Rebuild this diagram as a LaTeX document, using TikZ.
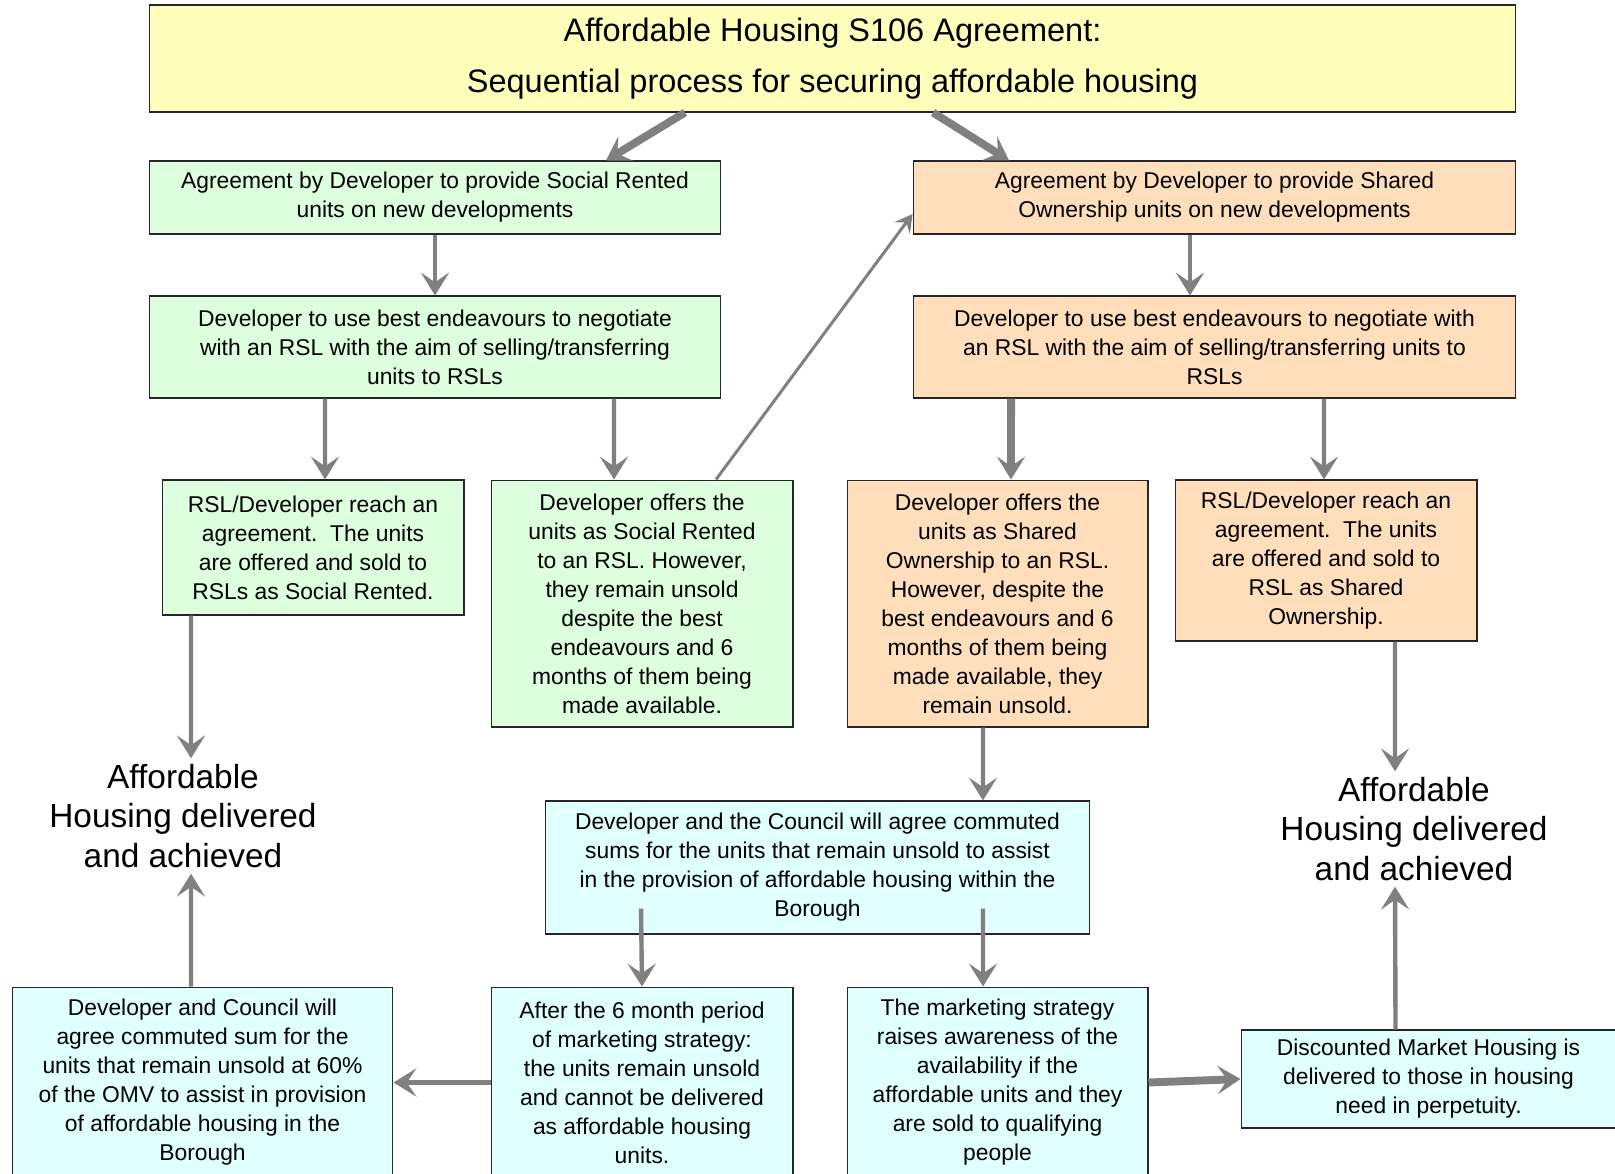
\documentclass[tikz,border=0pt]{standalone}
\usepackage{fontspec}
\setmainfont{Liberation Sans}
\usetikzlibrary{arrows.meta}

\definecolor{titleyellow}{RGB}{255,255,187}
\definecolor{socgreen}{RGB}{221,255,221}
\definecolor{shpeach}{RGB}{255,222,188}
\definecolor{cmcyan}{RGB}{224,255,255}
\definecolor{arrgray}{RGB}{128,128,128}

\begin{document}
\begin{tikzpicture}[x=0.02cm, y=-0.02cm,
    box/.style={draw=black!85, line width=0.6pt, align=center, inner sep=0pt,
        font=\fontsize{13}{16.5}\selectfont},
    soc/.style={box, fill=socgreen},
    shd/.style={box, fill=shpeach},
    sums/.style={box, fill=cmcyan},
    done/.style={align=center, font=\fontsize{19}{22.3}\selectfont},
    arr/.style={draw=arrgray, line width=2.5pt,
        -{Stealth[length=13pt, width=16pt, inset=5.5pt]}},
    thickarr/.style={arr, line width=4.5pt},
    thinarr/.style={draw=arrgray, line width=1.7pt,
        -{Stealth[length=10pt, width=11pt, inset=4pt]}}]
    \fill[white] (0,0) rectangle (1615,1173);
    \useasboundingbox (0,0) rectangle (1615,1173);

    % heading
    \node[box, fill=titleyellow, minimum width=27.34cm, minimum height=2.14cm,
        font=\fontsize{18.5}{29}\selectfont] (title) at (832.5,58.5)
        {Affordable Housing S106 Agreement:\\ Sequential process for securing affordable housing};

    % social rented branch
    \node[soc, minimum width=11.44cm, minimum height=1.46cm] (gSoc1) at (435,197.5)
        {Agreement by Developer to provide Social Rented\\ units on new developments};
    \node[soc, minimum width=11.44cm, minimum height=2.04cm] (gSoc2) at (435,347)
        {Developer to use best endeavours to negotiate\\ with an RSL with the aim of selling/transferring\\ units to RSLs};
    \node[soc, minimum width=6.04cm, minimum height=2.70cm] (gSoc3) at (313,547.5)
        {RSL/Developer reach an\\ agreement.\ \ The units\\ are offered and sold to\\ RSLs as Social Rented.};
    \node[soc, minimum width=6.04cm, minimum height=4.94cm] (gSoc4) at (642,603.5)
        {Developer offers the\\ units as Social Rented\\ to an RSL. However,\\ they remain unsold\\ despite the best\\ endeavours and 6\\ months of them being\\ made available.};

    % shared ownership branch
    \node[shd, minimum width=12.06cm, minimum height=1.46cm] (oSh1) at (1214.5,197.5)
        {Agreement by Developer to provide Shared\\ Ownership units on new developments};
    \node[shd, minimum width=12.06cm, minimum height=2.04cm] (oSh2) at (1214.5,347)
        {Developer to use best endeavours to negotiate with\\ an RSL with the aim of selling/transferring units to\\ RSLs};
    \node[shd, minimum width=6.02cm, minimum height=4.94cm] (oSh3) at (997.5,603.5)
        {Developer offers the\\ units as Shared\\ Ownership to an RSL.\\ However, despite the\\ best endeavours and 6\\ months of them being\\ made available, they\\ remain unsold.};
    \node[shd, minimum width=6.04cm, minimum height=3.22cm] (oSh4) at (1326,560.5)
        {RSL/Developer reach an\\ agreement.\ \ The units\\ are offered and sold to\\ RSL as Shared\\ Ownership.};

    % outcomes
    \node[done] (affL) at (183,816) {Affordable\\ Housing delivered\\ and achieved};
    \node[done] (affR) at (1414,829) {Affordable\\ Housing delivered\\ and achieved};

    % commuted sums and marketing
    \node[sums, minimum width=10.9cm, minimum height=2.66cm] (cSums) at (817.5,867.5)
        {Developer and the Council will agree commuted\\ sums for the units that remain unsold to assist\\ in the provision of affordable housing within the\\ Borough};
    \node[sums, minimum width=7.62cm, minimum height=3.82cm] (cPaid) at (202.5,1082.5)
        {Developer and Council will\\ agree commuted sum for the\\ units that remain unsold at 60\%\\ of the OMV to assist in provision\\ of affordable housing in the\\ Borough};
    \node[sums, minimum width=6.04cm, minimum height=3.82cm] (cUnsold) at (642,1082.5)
        {After the 6 month period\\ of marketing strategy:\\ the units remain unsold\\ and cannot be delivered\\ as affordable housing\\ units.};
    \node[sums, minimum width=6.02cm, minimum height=3.82cm] (cMarket) at (997.5,1082.5)
        {The marketing strategy\\ raises awareness of the\\ availability if the\\ affordable units and they\\ are sold to qualifying\\ people};
    \node[sums, minimum width=7.5cm, minimum height=1.96cm] (cDisc) at (1428.5,1079)
        {Discounted Market Housing is\\ delivered to those in housing\\ need in perpetuity.};

    % connectors
    \draw[thickarr] ([xshift=-2.95cm]title.south) -- ([xshift=3.42cm]gSoc1.north);
    \draw[thickarr] ([xshift=2.01cm]title.south) -- ([xshift=-4.11cm]oSh1.north);
    \draw[arr] (gSoc1.south) -- (gSoc2.north);
    \draw[arr] ([xshift=-0.49cm]oSh1.south) -- ([xshift=-0.49cm]oSh2.north);
    \draw[arr] ([xshift=-2.2cm]gSoc2.south) -- ([xshift=0.24cm]gSoc3.north);
    \draw[arr] ([xshift=3.58cm]gSoc2.south) -- ([xshift=-0.56cm]gSoc4.north);
    \draw[thinarr] ([xshift=1.48cm]gSoc4.north) -- ([yshift=-0.33cm]oSh1.west);
    \draw[thickarr] ([xshift=-4.07cm]oSh2.south) -- ([xshift=0.27cm]oSh3.north);
    \draw[arr] ([xshift=2.19cm]oSh2.south) -- ([xshift=-0.04cm]oSh4.north);
    \draw[arr] ([xshift=-2.44cm]gSoc3.south) -- ([xshift=0.16cm]affL.north);
    \draw[arr] ([xshift=1.38cm]oSh4.south) -- ([xshift=-0.38cm]affR.north);
    \draw[arr] ([xshift=-0.29cm]oSh3.south) -- ([xshift=3.31cm]cSums.north);
    \draw[arr] ([xshift=-3.53cm, yshift=0.52cm]cSums.south) -- (cUnsold.north);
    \draw[arr] ([xshift=3.31cm, yshift=0.52cm]cSums.south) -- ([xshift=-0.29cm]cMarket.north);
    \draw[arr] (cUnsold.west) -- (cPaid.east);
    \draw[arr] ([xshift=-0.23cm]cPaid.north) -- ([xshift=0.16cm]affL.south);
    \draw[thickarr] (cMarket.east) -- (cDisc.west);
    \draw[arr] ([xshift=-0.66cm]cDisc.north) -- ([xshift=-0.38cm]affR.south);
\end{tikzpicture}
\end{document}
